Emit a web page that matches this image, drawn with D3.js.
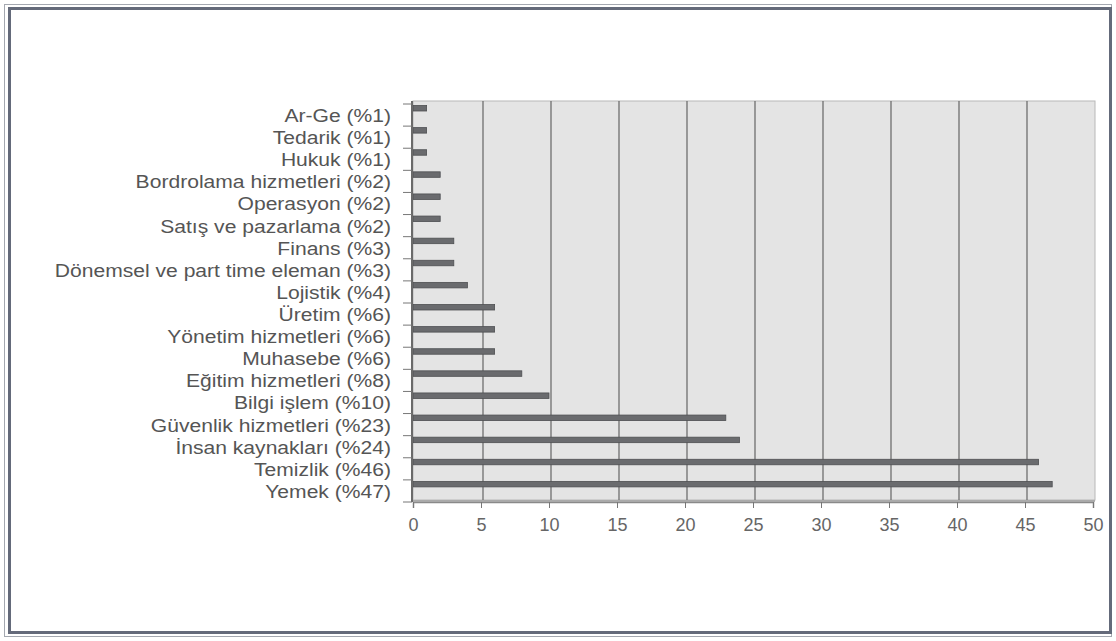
<!DOCTYPE html>
<html>
<head>
<meta charset="utf-8">
<script src="https://cdn.jsdelivr.net/npm/d3@7"></script>
<style>
  html, body { margin: 0; padding: 0; background: #fff; }
  svg { display: block; }
  text { font-family: "Liberation Sans", Arial, sans-serif; }
</style>
</head>
<body>
<svg id="chart" width="1116" height="641"></svg>
<script>
const categories = [
  "Ar-Ge (%1)", "Tedarik (%1)", "Hukuk (%1)", "Bordrolama hizmetleri (%2)",
  "Operasyon (%2)", "Satış ve pazarlama (%2)", "Finans (%3)",
  "Dönemsel ve part time eleman (%3)", "Lojistik (%4)", "Üretim (%6)",
  "Yönetim hizmetleri (%6)", "Muhasebe (%6)", "Eğitim hizmetleri (%8)",
  "Bilgi işlem (%10)", "Güvenlik hizmetleri (%23)", "İnsan kaynakları (%24)",
  "Temizlik (%46)", "Yemek (%47)"
];
const values = [1, 1, 1, 2, 2, 2, 3, 3, 4, 6, 6, 6, 8, 10, 23, 24, 46, 47];
const xTicks = [0, 5, 10, 15, 20, 25, 30, 35, 40, 45, 50];

const svg = d3.select("#chart");

// outer frame
svg.append("rect").attr("x", 4.5).attr("y", 4.5).attr("width", 1107).attr("height", 632)
  .attr("fill", "#fff").attr("stroke", "#a4a8b0").attr("stroke-width", 1);
svg.append("rect").attr("x", 9.5).attr("y", 8.5).attr("width", 1101).attr("height", 624)
  .attr("fill", "none").attr("stroke", "#646a7a").attr("stroke-width", 3);

const x = d3.scaleLinear().domain([0, 50]).range([413, 1093]);
const y = d3.scaleBand().domain(categories).range([104, 502]).padding(0);

const wallTop = 101, wallBottom = 500;

// back wall
svg.append("rect")
  .attr("x", x(0)).attr("y", wallTop)
  .attr("width", x(50) + 2 - x(0)).attr("height", wallBottom - wallTop)
  .attr("fill", "#e4e4e4").attr("stroke", "#b8b8b8").attr("stroke-width", 1);

// gridlines
svg.append("g").selectAll("line").data(xTicks.filter(d => d > 0 && d < 50)).join("line")
  .attr("x1", d => x(d) + 2).attr("x2", d => x(d) + 2)
  .attr("y1", wallTop).attr("y2", wallBottom)
  .attr("stroke", "#6e6e6e").attr("stroke-width", 1.3);

// floor line
svg.append("line").attr("x1", x(0)).attr("x2", x(50) + 2)
  .attr("y1", 501).attr("y2", 501).attr("stroke", "#9a9a9a").attr("stroke-width", 1.5);

// bars
svg.append("g").selectAll("rect").data(values).join("rect")
  .attr("x", x(0))
  .attr("y", (d, i) => y(categories[i]) + 1.5)
  .attr("width", d => x(d) - x(0))
  .attr("height", 5.5)
  .attr("fill", "#6a6b6e")
  .attr("stroke", "#4e4f52").attr("stroke-width", 0.8);

// vertical axis line
svg.append("line").attr("x1", x(0) - 1).attr("x2", x(0) - 1)
  .attr("y1", wallTop).attr("y2", 502).attr("stroke", "#6a6a6a").attr("stroke-width", 2);

// category ticks
const catTickPos = categories.map(c => y(c)).concat([502]);
svg.append("g").selectAll("line").data(catTickPos).join("line")
  .attr("x1", 403).attr("x2", x(0) - 1)
  .attr("y1", d => d).attr("y2", d => d)
  .attr("stroke", "#777").attr("stroke-width", 1);

// category labels
svg.append("g").selectAll("text").data(categories).join("text")
  .attr("transform", d => `translate(391,${y(d) + 18}) scale(1.14,1)`)
  .attr("text-anchor", "end")
  .attr("font-size", "18.5px")
  .attr("fill", "#555")
  .text(d => d);

// x axis
const xAxis = d3.axisBottom(x).tickValues(xTicks).tickSize(6).tickPadding(10).tickFormat(d3.format("d"));
const gx = svg.append("g").attr("transform", "translate(0,502)").call(xAxis);
gx.select(".domain").attr("stroke", "#8a8a8a").attr("stroke-width", 1.5);
gx.selectAll(".tick line").attr("stroke", "#777");
gx.selectAll(".tick text")
  .attr("font-size", "18px")
  .attr("font-family", "Liberation Sans, Arial, sans-serif")
  .attr("fill", "#666");
</script>
</body>
</html>
